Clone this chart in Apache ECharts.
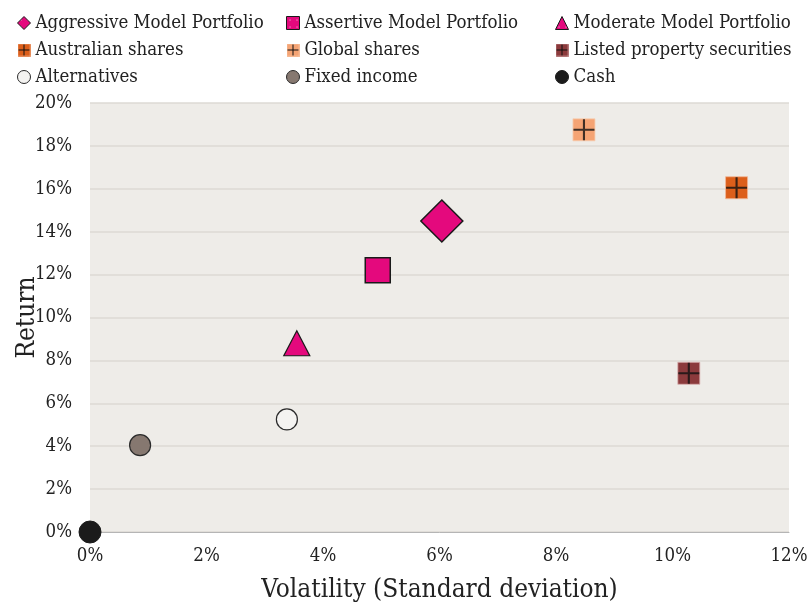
<!DOCTYPE html>
<html><head><meta charset="utf-8">
<script src="https://cdn.jsdelivr.net/npm/echarts@6/dist/echarts.min.js"></script>
<style>html,body{margin:0;padding:0;background:#fff}#c{width:809px;height:602px}</style>
</head><body><div id="c"></div>
<script>
// Data: [volatility %, return %]
const seriesNames = ['Aggressive Model Portfolio','Assertive Model Portfolio','Moderate Model Portfolio',
  'Australian shares','Global shares','Listed property securities','Alternatives','Fixed income','Cash'];
const volatility = [6.04, 4.94, 3.55, 11.1, 8.48, 10.28, 3.38, 0.86, 0.0];
const returns    = [14.5, 12.2, 8.8, 16.05, 18.75, 7.4, 5.25, 4.05, 0.0];
const xTicks = [0,2,4,6,8,10,12];
const yTicks = [0,2,4,6,8,10,12,14,16,18,20];

const FONT = "'DejaVu Serif Condensed','DejaVu Serif',serif";

function dotPattern(base){
  const c = document.createElement('canvas'); c.width = 7; c.height = 7;
  const g = c.getContext('2d');
  g.fillStyle = base; g.fillRect(0,0,7,7);
  g.fillStyle = 'rgba(255,255,255,0.95)'; g.fillRect(3,3,1,1);
  return {image:c, repeat:'repeat'};
}
function crossIcon(fill, edge){
  const c = document.createElement('canvas'); c.width = 26; c.height = 26;
  const g = c.getContext('2d');
  g.fillStyle = edge; g.fillRect(0,0,26,26);
  g.fillStyle = fill; g.fillRect(1,1,24,24);
  g.fillStyle = '#111'; g.fillRect(12,2,2,22); g.fillRect(2,12,22,2);
  return 'image://' + c.toDataURL();
}
const pink = dotPattern('#e4097d');
const styles = [
  {symbol:'diamond', size:[42,42], color:pink, border:'#1a1a1a', bw:1.5, icon:'diamond'},
  {symbol:'rect', size:[25,25], color:pink, border:'#1a1a1a', bw:1.5, icon:'rect'},
  {symbol:'triangle', size:[26,25], color:pink, border:'#1a1a1a', bw:1.2, icon:'triangle'},
  {symbol:'rect', size:[22,22], color:'#dc5f1b', border:'#f0b898', bw:0.8, cross:true},
  {symbol:'rect', size:[22,22], color:'#f5a474', border:'#f8cdb0', bw:0.8, cross:true},
  {symbol:'rect', size:[22,22], color:'#8b3a3c', border:'#d9b0b0', bw:0.8, cross:true},
  {symbol:'circle', size:[21,21], color:'#f4f3f1', border:'#2a2a2a', bw:1.2, icon:'circle'},
  {symbol:'circle', size:[21,21], color:'#867870', border:'#2a2a2a', bw:1.2, icon:'circle'},
  {symbol:'circle', size:[22,22], color:'#1b1b1b', border:'#1b1b1b', bw:1, icon:'circle'}
];
const crossPath = 'path://M9,0 L11,0 L11,9 L20,9 L20,11 L11,11 L11,20 L9,20 L9,11 L0,11 L0,9 L9,9 Z';

const series = [];
seriesNames.forEach((n,i)=>{
  const s = styles[i];
  series.push({
    name:n, type:'scatter', symbol:s.symbol, symbolSize:s.size, clip:false,
    data:[[volatility[i], returns[i]]],
    itemStyle:{color:s.color, borderColor:s.border, borderWidth:s.bw, opacity:1}, z:3,
    emphasis:{disabled:true}
  });
  if (s.cross) {
    series.push({
      name:n+'_cross', type:'scatter', symbol:crossPath, symbolSize:[21,21], clip:false,
      data:[[volatility[i], returns[i]]], itemStyle:{color:'#111'}, z:4, silent:true
    });
  }
});

function legendItem(i){
  const s = styles[i];
  if (s.cross) return {name:seriesNames[i], icon:crossIcon(s.color, s.border), itemStyle:{borderWidth:0}};
  return {name:seriesNames[i], icon:s.icon, itemStyle:{borderWidth:1, borderColor:s.border}};
}
const legendCols = [
  {left:12, idx:[0,3,6]},
  {left:281, idx:[1,4,7]},
  {left:550, idx:[2,5,8]}
];
const legends = legendCols.map(c=>({
  orient:'vertical', left:c.left, top:7, itemGap:5, itemWidth:13, itemHeight:13,
  data:c.idx.map(legendItem), selectedMode:false,
  textStyle:{fontFamily:FONT, fontSize:18.5, lineHeight:22, color:'#222'}
}));

const chart = echarts.init(document.getElementById('c'));
chart.setOption({
  animation:false,
  backgroundColor:'#fff',
  legend: legends,
  grid:{left:90, right:20, top:103, bottom:70, show:true, backgroundColor:'#eeece8', borderWidth:0,
    containLabel:false, outerBoundsMode:'none'},
  xAxis:{type:'value', min:xTicks[0], max:xTicks[xTicks.length-1], interval:2,
    name:'Volatility (Standard deviation)', nameLocation:'middle', nameGap:45, nameMoveOverlap:false,
    nameTextStyle:{fontFamily:FONT, fontSize:26, color:'#222'},
    axisLine:{show:true, lineStyle:{color:'#b5b5b5', width:1}}, axisTick:{show:false},
    axisLabel:{fontFamily:FONT, fontSize:18.5, color:'#222', margin:15, formatter:v=>v+'%'},
    splitLine:{show:false}},
  yAxis:{type:'value', min:yTicks[0], max:yTicks[yTicks.length-1], interval:2,
    name:'Return', nameLocation:'middle', nameGap:50, nameRotate:90, nameMoveOverlap:false,
    nameTextStyle:{fontFamily:FONT, fontSize:26, color:'#222'},
    axisLine:{show:false}, axisTick:{show:false},
    axisLabel:{fontFamily:FONT, fontSize:18.5, color:'#222', margin:18, formatter:v=>v+'%'},
    splitLine:{show:true, lineStyle:{color:'#dcdad5', width:1.5}}},
  series: series
});
</script></body></html>
